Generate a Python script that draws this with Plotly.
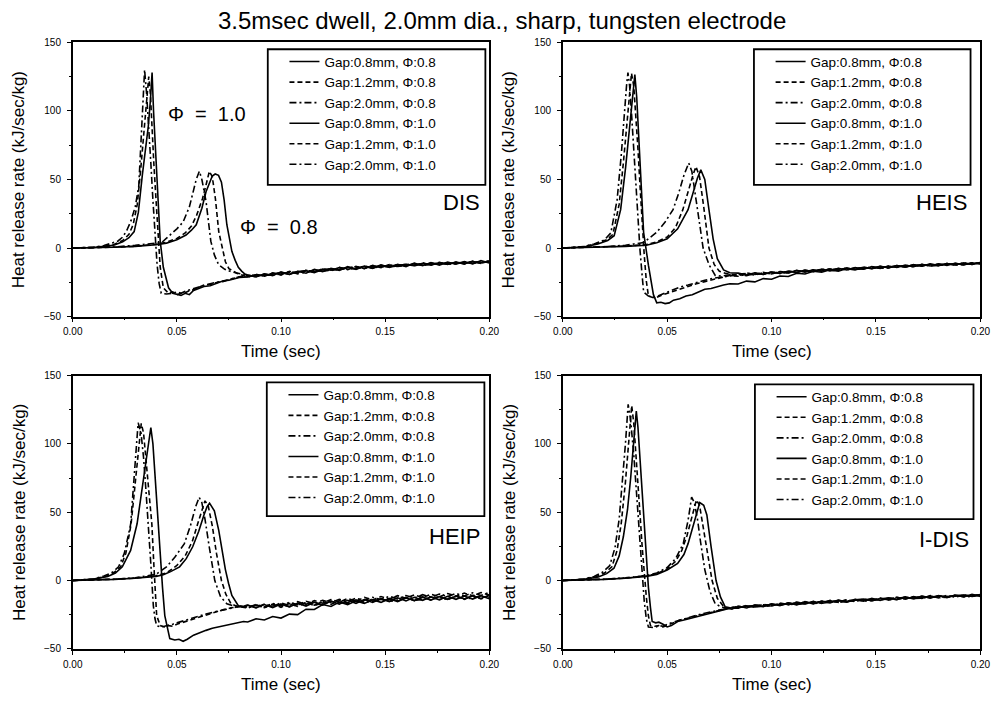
import plotly.graph_objects as go

# ---------------- data ----------------
PANEL_NAMES = ["DIS", "HEIS", "HEIP", "I-DIS"]
SERIES_NAMES = ["Gap:0.8mm, Φ:0.8", "Gap:1.2mm, Φ:0.8", "Gap:2.0mm, Φ:0.8",
                "Gap:0.8mm, Φ:1.0", "Gap:1.2mm, Φ:1.0", "Gap:2.0mm, Φ:1.0"]
X_TICKS = [0.0, 0.05, 0.10, 0.15, 0.20]
X_TICK_TEXT = ["0.00", "0.05", "0.10", "0.15", "0.20"]
Y_TICKS = [-50, 0, 50, 100, 150]

TAIL_T = [0.084, 0.088, 0.092, 0.096, 0.100, 0.104, 0.108, 0.112, 0.116, 0.120,
          0.124, 0.128, 0.132, 0.136, 0.140, 0.144, 0.148, 0.152, 0.156, 0.160,
          0.164, 0.168, 0.172, 0.176, 0.180, 0.184, 0.188, 0.192, 0.196, 0.200]

# ---- DIS ----
DIS_T_G08_P08 = [0, 0.010, 0.020, 0.030, 0.036, 0.040, 0.045, 0.050, 0.0544, 0.057, 0.0593, 0.062, 0.064, 0.0655, 0.067, 0.0684, 0.070, 0.0714, 0.0727, 0.074, 0.0752, 0.0764, 0.078, 0.0795, 0.0812, 0.0827]
DIS_V_G08_P08 = [0, 0.2, 0.6, 1.2, 1.8, 2.4, 3.6, 6, 9.5, 13, 17, 29, 41, 47, 52.5, 54, 53, 48, 35, 17, 6, -2.4, -9, -14, -17, -19]
DIS_T_G12_P08 = [0, 0.010, 0.020, 0.030, 0.036, 0.040, 0.045, 0.050, 0.054, 0.057, 0.0595, 0.0623, 0.064, 0.0656, 0.067, 0.0685, 0.0701, 0.0717, 0.0733, 0.075, 0.077, 0.079, 0.081]
DIS_V_G12_P08 = [0, 0.2, 0.6, 1.3, 2, 2.8, 4.2, 7, 11, 16, 24, 36, 46, 56, 52, 36, 12, 0, -10, -15, -17, -18.5, -19.5]
DIS_T_G20_P08 = [0, 0.010, 0.020, 0.030, 0.036, 0.0427, 0.0452, 0.050, 0.053, 0.056, 0.0593, 0.0608, 0.062, 0.064, 0.0663, 0.068, 0.070, 0.073, 0.0755, 0.078, 0.081]
DIS_V_G20_P08 = [0, 0.3, 0.8, 2, 3, 4, 7.4, 14, 19, 30, 50, 56, 50, 34, 5, -5, -12, -15.5, -17, -18, -19]
DIS_T_G08_P10 = [0, 0.010, 0.016, 0.020, 0.024, 0.027, 0.0295, 0.0315, 0.0334, 0.035, 0.0363, 0.0373, 0.0381, 0.0388, 0.0395, 0.0405, 0.042, 0.0435, 0.046, 0.048, 0.050, 0.052, 0.054, 0.056, 0.058, 0.060, 0.063, 0.066, 0.069, 0.072, 0.075, 0.078, 0.080]
DIS_V_G08_P10 = [0, 0.4, 1.2, 2.2, 4.5, 7.5, 12, 26, 53, 72, 89, 108, 128, 100, 77, 45, 5, -14, -29, -33, -34, -34.5, -33, -34, -31, -30, -28, -27.5, -26, -24, -23.5, -22, -21.5]
DIS_T_G12_P10 = [0, 0.010, 0.016, 0.020, 0.024, 0.027, 0.029, 0.031, 0.0325, 0.034, 0.0352, 0.0365, 0.0373, 0.038, 0.039, 0.040, 0.041, 0.042, 0.0435, 0.046, 0.048, 0.050, 0.052, 0.054, 0.056, 0.058, 0.060, 0.063, 0.066, 0.069, 0.072, 0.075, 0.078, 0.080]
DIS_V_G12_P10 = [0, 0.5, 1.5, 2.8, 5.5, 10, 17, 32, 55, 82, 104, 125, 112, 88, 60, 35, 8, -14, -29, -33, -32, -34, -33, -32.5, -31, -30.5, -29, -27, -26.5, -25, -24, -23, -21.5, -21]
DIS_T_G20_P10 = [0, 0.010, 0.015, 0.019, 0.0216, 0.024, 0.026, 0.028, 0.030, 0.0317, 0.033, 0.0345, 0.0355, 0.0365, 0.0375, 0.0385, 0.0395, 0.0405, 0.0415, 0.0425, 0.045, 0.048, 0.050, 0.052, 0.054, 0.057, 0.060, 0.063, 0.066, 0.069, 0.072, 0.075, 0.078, 0.080]
DIS_V_G20_P10 = [0, 0.6, 1.8, 3.5, 5, 8, 13, 20, 30, 45, 85, 130, 112, 90, 62, 35, 10, -12, -26, -33, -33.5, -33, -32, -33, -31.5, -30, -29, -27.5, -26, -25, -24.5, -23, -22, -21]
DIS_TAIL_G08_P08 = [-19.6, -21.1, -18.8, -20.2, -17.4, -19.3, -16.9, -18.4, -15.6, -17.2, -14.8, -16.3, -13.5, -15.6, -13.1, -14.8, -12.2, -14.1, -11.8, -13.5, -11.0, -12.9, -10.6, -12.4, -10.3, -11.8, -9.8, -11.6, -9.2, -10.9]
DIS_TAIL_G12_P08 = [-21.4, -19.2, -20.6, -18.1, -19.7, -17.0, -18.8, -16.2, -17.5, -15.1, -16.6, -14.0, -15.8, -13.4, -15.1, -12.7, -14.3, -12.0, -13.6, -11.5, -13.1, -10.8, -12.5, -10.4, -12.0, -10.1, -11.7, -9.5, -11.2, -9.1]
DIS_TAIL_G20_P08 = [-20.1, -20.9, -19.0, -19.8, -18.9, -17.3, -18.1, -17.9, -16.0, -16.8, -16.2, -14.3, -15.5, -14.9, -13.2, -14.4, -13.8, -12.3, -13.4, -12.9, -11.4, -12.6, -12.0, -10.6, -11.9, -11.3, -10.0, -11.2, -10.6, -9.6]
DIS_TAIL_G08_P10 = [-21.0, -19.5, -20.3, -18.7, -18.0, -19.2, -17.1, -16.6, -17.9, -15.4, -16.1, -15.6, -14.0, -15.2, -13.5, -14.6, -12.6, -13.8, -13.0, -11.9, -12.8, -11.2, -12.3, -10.7, -11.8, -10.5, -11.4, -9.9, -10.8, -9.7]
DIS_TAIL_G12_P10 = [-19.8, -20.7, -19.9, -18.4, -19.3, -17.6, -18.2, -16.4, -17.3, -16.5, -15.0, -16.0, -14.4, -13.9, -14.9, -13.1, -13.9, -12.5, -13.3, -12.0, -12.7, -11.5, -11.9, -11.1, -11.6, -10.4, -11.0, -10.2, -10.9, -9.8]
DIS_TAIL_G20_P10 = [-20.8, -19.6, -20.0, -19.4, -17.8, -18.5, -17.7, -16.3, -16.9, -15.8, -15.3, -15.4, -14.6, -13.7, -14.5, -12.9, -13.7, -13.5, -12.1, -13.0, -11.7, -12.4, -11.0, -11.9, -10.8, -11.5, -10.3, -10.6, -10.0, -10.4]

# ---- HEIS ----
HEIS_T_G08_P08 = [0, 0.010, 0.020, 0.030, 0.040, 0.045, 0.050, 0.055, 0.060, 0.063, 0.0645, 0.0661, 0.068, 0.070, 0.072, 0.074, 0.077, 0.080]
HEIS_V_G08_P08 = [0, 0.3, 0.6, 1.2, 2, 3.8, 6.7, 14, 28, 43, 51, 57, 50, 28, 6.7, -7.7, -16, -18]
HEIS_T_G12_P08 = [0, 0.010, 0.020, 0.030, 0.040, 0.045, 0.050, 0.054, 0.0575, 0.0605, 0.0625, 0.0638, 0.0655, 0.0675, 0.070, 0.0725, 0.075, 0.078, 0.080]
HEIS_V_G12_P08 = [0, 0.3, 0.7, 1.4, 2.6, 4.5, 8, 15, 28, 44, 54, 59.4, 52, 30, 0, -12, -17, -18.5, -19]
HEIS_T_G20_P08 = [0, 0.010, 0.020, 0.030, 0.0387, 0.045, 0.049, 0.0528, 0.0555, 0.058, 0.0603, 0.0618, 0.0635, 0.0655, 0.0672, 0.070, 0.073, 0.076, 0.080]
HEIS_V_G20_P08 = [0, 0.4, 1, 2, 4, 11.5, 19, 28, 40, 53, 62, 56, 40, 18, 0, -12, -20, -20.5, -19.5]
HEIS_T_G08_P10 = [0, 0.010, 0.0168, 0.0215, 0.0246, 0.0277, 0.0301, 0.0324, 0.0335, 0.0345, 0.0354, 0.0363, 0.0375, 0.0387, 0.041, 0.0434, 0.045, 0.047, 0.049, 0.051, 0.053, 0.056, 0.059, 0.062, 0.065, 0.068, 0.071, 0.074, 0.077, 0.080]
HEIS_V_G08_P10 = [0, 0.8, 3, 5.5, 9, 28, 59, 95, 115, 126.5, 110, 83, 45, 11.5, -12.5, -34, -40, -39.5, -40.5, -40, -38, -37, -35, -34, -32, -30, -29.5, -28, -27, -26]
HEIS_T_G12_P10 = [0, 0.010, 0.016, 0.021, 0.024, 0.027, 0.029, 0.031, 0.032, 0.0329, 0.034, 0.035, 0.036, 0.037, 0.038, 0.039, 0.040, 0.041, 0.043, 0.045, 0.048, 0.051, 0.054, 0.057, 0.060, 0.064, 0.068, 0.072, 0.076, 0.080]
HEIS_V_G12_P10 = [0, 0.9, 3.2, 6, 10, 32, 62, 98, 115, 127.5, 118, 98, 72, 45, 18, -5, -24, -35, -36, -36, -34, -32.5, -31, -29, -28, -26, -24.5, -23, -21.5, -20]
HEIS_T_G20_P10 = [0, 0.010, 0.015, 0.020, 0.023, 0.026, 0.028, 0.0295, 0.0305, 0.0312, 0.032, 0.033, 0.034, 0.035, 0.036, 0.037, 0.038, 0.0387, 0.041, 0.044, 0.047, 0.050, 0.053, 0.056, 0.060, 0.064, 0.068, 0.072, 0.076, 0.080]
HEIS_V_G20_P10 = [0, 1, 3, 6, 11, 35, 68, 100, 118, 128, 118, 96, 70, 45, 20, -2, -20, -32, -35, -36, -34, -32, -30, -28.5, -27, -25, -23.5, -22, -21, -20]
HEIS_TAIL_G08_P08 = [-18.3, -19.6, -18.0, -19.2, -17.5, -18.6, -16.8, -17.9, -16.1, -17.3, -15.5, -16.6, -14.8, -16.0, -14.3, -15.4, -13.6, -14.8, -13.1, -14.2, -12.5, -13.6, -11.9, -13.1, -11.5, -12.7, -11.1, -12.3, -10.7, -11.6]
HEIS_TAIL_G12_P08 = [-19.8, -18.1, -19.4, -17.7, -18.9, -17.1, -18.2, -16.3, -17.5, -15.8, -16.9, -15.1, -16.2, -14.5, -15.7, -13.9, -15.1, -13.3, -14.5, -12.7, -13.8, -12.1, -13.2, -11.6, -12.8, -11.3, -12.4, -10.8, -12.0, -10.4]
HEIS_TAIL_G20_P08 = [-19.4, -18.4, -19.1, -18.9, -17.6, -18.3, -17.9, -16.5, -17.2, -16.9, -15.4, -16.5, -16.1, -14.6, -15.6, -15.3, -13.7, -14.7, -14.4, -12.9, -13.8, -13.5, -12.0, -13.0, -12.7, -11.3, -12.4, -12.1, -10.8, -11.5]
HEIS_TAIL_G08_P10 = [-26.2, -24.1, -24.7, -22.3, -22.8, -20.4, -20.7, -18.4, -18.9, -16.9, -17.6, -15.9, -16.8, -15.0, -15.9, -14.2, -15.1, -13.4, -14.4, -12.8, -13.8, -12.2, -13.2, -11.7, -12.8, -11.4, -12.4, -10.9, -12.0, -10.5]
HEIS_TAIL_G12_P10 = [-20.6, -18.9, -19.7, -18.0, -18.9, -17.1, -18.1, -16.4, -17.4, -15.8, -16.8, -15.2, -16.1, -14.6, -15.5, -14.0, -14.9, -13.4, -14.3, -12.8, -13.6, -12.2, -13.1, -11.7, -12.6, -11.4, -12.2, -10.9, -11.9, -10.5]
HEIS_TAIL_G20_P10 = [-19.5, -20.1, -18.3, -19.2, -17.6, -18.5, -16.9, -17.6, -16.2, -17.1, -15.6, -16.4, -15.0, -15.9, -14.4, -15.2, -13.8, -14.6, -13.2, -14.0, -12.6, -13.4, -12.1, -12.9, -11.7, -12.5, -11.2, -12.1, -10.8, -11.6]

# ---- HEIP ----
HEIP_T_G08_P08 = [0, 0.010, 0.020, 0.030, 0.040, 0.0435, 0.047, 0.0513, 0.0545, 0.0576, 0.0605, 0.063, 0.0645, 0.0657, 0.068, 0.0701, 0.0717, 0.0733, 0.0748, 0.0764, 0.0795, 0.082]
HEIP_V_G08_P08 = [0, 0.3, 0.8, 1.6, 3, 4.3, 6.5, 10, 16, 24.7, 36, 48, 54, 56.6, 51, 36.7, 22, 8, -2, -11, -18.5, -19]
HEIP_T_G12_P08 = [0, 0.010, 0.020, 0.030, 0.040, 0.045, 0.050, 0.054, 0.0575, 0.0605, 0.0622, 0.0635, 0.065, 0.067, 0.069, 0.0714, 0.0735, 0.076, 0.079, 0.082]
HEIP_V_G12_P08 = [0, 0.3, 0.9, 1.8, 3.5, 5.5, 11, 18, 29, 44, 53, 58.3, 55, 40, 20, 0, -10, -17, -19, -19.5]
HEIP_T_G20_P08 = [0, 0.010, 0.020, 0.030, 0.040, 0.045, 0.049, 0.0536, 0.0565, 0.059, 0.0607, 0.062, 0.0635, 0.0655, 0.0682, 0.071, 0.074, 0.077, 0.080]
HEIP_V_G20_P08 = [0, 0.4, 1, 2, 4.5, 10, 17, 27, 40, 54, 61, 57, 45, 25, 0, -12, -17, -18.5, -19]
HEIP_T_G08_P10 = [0, 0.010, 0.0168, 0.0205, 0.0238, 0.0278, 0.0309, 0.034, 0.0358, 0.0375, 0.0385, 0.0395, 0.0407, 0.0419, 0.0431, 0.0442, 0.0455, 0.0466, 0.049, 0.051, 0.053, 0.055, 0.058, 0.061, 0.064, 0.067, 0.070, 0.074, 0.078, 0.082]
HEIP_V_G08_P10 = [0, 1, 3, 5.5, 10, 22, 41.5, 75, 95, 112, 100, 77.5, 48, 17.5, -5, -25.7, -36, -42.5, -43.5, -43, -44.5, -43, -40, -38, -36.5, -35, -34, -32.5, -31, -30]
HEIP_T_G12_P10 = [0, 0.010, 0.016, 0.020, 0.023, 0.0255, 0.028, 0.030, 0.0315, 0.0329, 0.034, 0.035, 0.036, 0.037, 0.038, 0.039, 0.0403, 0.042, 0.044, 0.046, 0.048, 0.050, 0.053, 0.056, 0.060, 0.064, 0.068, 0.072, 0.076, 0.080]
HEIP_V_G12_P10 = [0, 1, 3.2, 6, 10, 20, 41, 70, 95, 115, 108, 92, 75, 58, 41, 10, -25.7, -33, -34, -33, -33.5, -32, -30.5, -29, -27, -25, -23, -21.5, -20, -19]
HEIP_T_G20_P10 = [0, 0.010, 0.015, 0.019, 0.022, 0.0248, 0.0278, 0.0295, 0.0314, 0.0328, 0.034, 0.0352, 0.0364, 0.0375, 0.0387, 0.0395, 0.0403, 0.042, 0.044, 0.046, 0.048, 0.050, 0.053, 0.056, 0.060, 0.064, 0.068, 0.072, 0.076, 0.080]
HEIP_V_G20_P10 = [0, 1.1, 3.3, 6, 10, 20, 41, 75, 115.4, 108, 90, 65, 41, 12, -18.5, -28, -33, -34, -33.5, -33, -32, -31, -29.5, -28.5, -26.5, -24.5, -23, -21.5, -20, -19]
HEIP_TAIL_G08_P08 = [-18.0, -20.1, -17.6, -19.8, -17.2, -19.3, -16.6, -18.7, -15.9, -18.0, -15.1, -17.3, -14.5, -16.7, -13.9, -16.1, -13.3, -15.4, -12.7, -14.9, -12.3, -14.5, -11.9, -14.1, -11.6, -13.8, -11.4, -13.6, -11.2, -13.3]
HEIP_TAIL_G12_P08 = [-20.2, -17.7, -19.9, -17.3, -19.6, -16.8, -19.0, -16.2, -18.3, -15.4, -17.5, -14.7, -16.9, -14.1, -16.3, -13.5, -15.7, -12.9, -15.1, -12.4, -14.7, -12.0, -14.3, -11.6, -14.0, -11.4, -13.8, -11.1, -13.5, -10.9]
HEIP_TAIL_G20_P08 = [-19.3, -18.2, -19.7, -18.6, -17.4, -19.1, -17.9, -16.3, -18.0, -16.9, -15.2, -16.8, -16.1, -14.2, -15.9, -15.3, -13.3, -15.2, -14.6, -12.6, -14.5, -14.0, -12.1, -13.9, -13.3, -11.7, -13.4, -12.8, -11.3, -12.9]
HEIP_TAIL_G08_P10 = [-30.4, -28.0, -28.9, -26.4, -27.5, -24.6, -25.0, -21.0, -21.2, -17.6, -19.0, -15.8, -17.7, -14.9, -16.8, -14.1, -16.0, -13.3, -15.4, -12.7, -14.8, -12.2, -14.3, -11.8, -13.9, -11.4, -13.5, -11.0, -13.1, -10.7]
HEIP_TAIL_G12_P10 = [-18.1, -19.8, -17.2, -19.1, -16.3, -18.3, -15.5, -17.4, -14.7, -16.6, -13.9, -15.8, -13.1, -15.0, -12.4, -14.2, -11.7, -13.6, -11.1, -13.0, -10.5, -12.4, -10.0, -11.9, -9.5, -11.5, -9.2, -11.1, -8.8, -10.7]
HEIP_TAIL_G20_P10 = [-19.9, -17.6, -19.3, -16.8, -18.5, -16.0, -17.7, -15.2, -16.9, -14.5, -16.2, -13.7, -15.4, -12.9, -14.6, -12.3, -14.0, -11.6, -13.4, -11.0, -12.8, -10.4, -12.2, -9.9, -11.8, -9.5, -11.3, -9.0, -10.9, -8.6]

# ---- I-DIS ----
IDIS_T_G08_P08 = [0, 0.010, 0.020, 0.030, 0.040, 0.045, 0.050, 0.055, 0.058, 0.060, 0.063, 0.0656, 0.0675, 0.069, 0.071, 0.0734, 0.0755, 0.078, 0.081]
IDIS_V_G08_P08 = [0, 0.3, 0.8, 1.6, 3, 4.5, 7.7, 12.5, 19, 27, 44, 57, 55, 48, 25, 0, -12, -20, -21]
IDIS_T_G12_P08 = [0, 0.010, 0.020, 0.030, 0.040, 0.045, 0.050, 0.054, 0.057, 0.0595, 0.062, 0.064, 0.0655, 0.067, 0.069, 0.0715, 0.074, 0.077, 0.080]
IDIS_V_G12_P08 = [0, 0.3, 0.9, 1.8, 3.3, 5, 8.5, 14, 22, 33, 48, 59, 55, 42, 22, 0, -13, -19, -20]
IDIS_T_G20_P08 = [0, 0.010, 0.020, 0.030, 0.040, 0.045, 0.050, 0.054, 0.0577, 0.060, 0.0617, 0.063, 0.0645, 0.066, 0.068, 0.0705, 0.073, 0.076, 0.080]
IDIS_V_G20_P08 = [0, 0.3, 1, 2, 3.5, 5.5, 9.5, 16, 27, 44, 61, 57, 45, 28, 8, -8, -17, -19.5, -20]
IDIS_T_G08_P10 = [0, 0.010, 0.017, 0.021, 0.0245, 0.027, 0.029, 0.031, 0.0325, 0.034, 0.0352, 0.036, 0.037, 0.038, 0.039, 0.040, 0.041, 0.042, 0.0428, 0.0445, 0.046, 0.048, 0.050, 0.052, 0.055, 0.059, 0.063, 0.067, 0.071, 0.075, 0.078, 0.081]
IDIS_V_G08_P10 = [0, 0.8, 2.5, 5, 9, 18, 32, 52, 75, 100, 124, 112, 88, 62, 38, 15, -5, -20, -30, -31, -30.5, -32, -34, -33, -30, -28.5, -27, -25, -24, -22, -21, -20]
IDIS_T_G12_P10 = [0, 0.010, 0.016, 0.020, 0.0235, 0.026, 0.028, 0.030, 0.0315, 0.033, 0.034, 0.035, 0.036, 0.037, 0.038, 0.039, 0.040, 0.041, 0.042, 0.044, 0.046, 0.048, 0.050, 0.053, 0.056, 0.060, 0.064, 0.068, 0.072, 0.076, 0.080]
IDIS_V_G12_P10 = [0, 0.9, 2.8, 5.5, 10, 22, 42, 72, 100, 128, 115, 95, 70, 48, 25, 5, -12, -26, -33, -33.5, -33, -34, -33, -31, -29, -27.5, -25.5, -24, -22.5, -21, -20]
IDIS_T_G20_P10 = [0, 0.010, 0.015, 0.019, 0.0225, 0.025, 0.027, 0.029, 0.030, 0.0313, 0.0325, 0.034, 0.035, 0.036, 0.037, 0.038, 0.039, 0.040, 0.041, 0.044, 0.046, 0.048, 0.050, 0.053, 0.056, 0.060, 0.064, 0.068, 0.072, 0.076, 0.080]
IDIS_V_G20_P10 = [0, 1, 3, 6, 11, 24, 45, 78, 100, 129, 117, 92, 70, 48, 25, 3, -15, -28, -34, -34.5, -33, -33.5, -32, -30.5, -29, -27, -25.5, -24, -22.5, -21, -20]
IDIS_TAIL_G08_P08 = [-18.7, -20.1, -17.9, -19.2, -17.0, -18.4, -16.3, -17.8, -15.5, -17.0, -15.0, -16.4, -14.3, -15.8, -13.8, -15.2, -13.1, -14.6, -12.6, -14.0, -12.0, -13.4, -11.4, -12.9, -11.0, -12.5, -10.6, -12.0, -10.2, -11.6]
IDIS_TAIL_G12_P08 = [-20.3, -18.2, -19.5, -17.3, -18.7, -16.6, -17.9, -15.8, -17.2, -15.3, -16.7, -14.6, -16.0, -14.0, -15.5, -13.5, -14.9, -12.9, -14.3, -12.2, -13.6, -11.7, -13.1, -11.1, -12.7, -10.8, -12.3, -10.5, -11.8, -10.0]
IDIS_TAIL_G20_P08 = [-19.2, -19.8, -18.0, -18.9, -18.5, -16.8, -17.6, -17.3, -15.7, -16.8, -16.4, -14.8, -15.9, -15.4, -13.9, -15.0, -14.7, -13.0, -14.1, -13.8, -12.1, -13.2, -12.9, -11.4, -12.6, -12.3, -10.7, -11.9, -11.7, -10.1]
IDIS_TAIL_G08_P10 = [-20.0, -18.6, -19.3, -18.8, -17.2, -18.1, -16.5, -17.5, -16.9, -15.4, -16.6, -15.9, -14.5, -15.7, -14.2, -13.6, -14.8, -13.3, -12.8, -13.9, -12.4, -13.0, -11.6, -12.6, -11.2, -12.1, -11.0, -10.6, -11.6, -10.4]
IDIS_TAIL_G12_P10 = [-19.0, -19.6, -18.3, -17.7, -18.4, -17.0, -16.6, -17.4, -16.1, -16.9, -15.2, -15.8, -15.6, -14.4, -15.1, -14.0, -13.6, -14.3, -13.2, -12.7, -13.5, -12.0, -12.6, -12.3, -11.3, -12.0, -11.5, -10.9, -11.3, -10.5]
IDIS_TAIL_G20_P10 = [-19.9, -18.8, -18.9, -18.5, -17.6, -17.6, -17.3, -16.2, -16.7, -15.9, -15.5, -15.2, -14.9, -15.1, -14.4, -14.6, -13.8, -13.5, -13.9, -12.8, -12.5, -12.8, -12.4, -11.7, -12.1, -11.4, -11.2, -11.5, -10.7, -11.1]

# ---------------- assemble ----------------
W, H = 1008, 702
FONT = "Liberation Sans, Arial, sans-serif"


def fx(p):
    return p / W


def fy(p):
    return 1 - p / H


PANEL_CURVES = [
    [(DIS_T_G08_P08, DIS_V_G08_P08, DIS_TAIL_G08_P08), (DIS_T_G12_P08, DIS_V_G12_P08, DIS_TAIL_G12_P08),
     (DIS_T_G20_P08, DIS_V_G20_P08, DIS_TAIL_G20_P08), (DIS_T_G08_P10, DIS_V_G08_P10, DIS_TAIL_G08_P10),
     (DIS_T_G12_P10, DIS_V_G12_P10, DIS_TAIL_G12_P10), (DIS_T_G20_P10, DIS_V_G20_P10, DIS_TAIL_G20_P10)],
    [(HEIS_T_G08_P08, HEIS_V_G08_P08, HEIS_TAIL_G08_P08), (HEIS_T_G12_P08, HEIS_V_G12_P08, HEIS_TAIL_G12_P08),
     (HEIS_T_G20_P08, HEIS_V_G20_P08, HEIS_TAIL_G20_P08), (HEIS_T_G08_P10, HEIS_V_G08_P10, HEIS_TAIL_G08_P10),
     (HEIS_T_G12_P10, HEIS_V_G12_P10, HEIS_TAIL_G12_P10), (HEIS_T_G20_P10, HEIS_V_G20_P10, HEIS_TAIL_G20_P10)],
    [(HEIP_T_G08_P08, HEIP_V_G08_P08, HEIP_TAIL_G08_P08), (HEIP_T_G12_P08, HEIP_V_G12_P08, HEIP_TAIL_G12_P08),
     (HEIP_T_G20_P08, HEIP_V_G20_P08, HEIP_TAIL_G20_P08), (HEIP_T_G08_P10, HEIP_V_G08_P10, HEIP_TAIL_G08_P10),
     (HEIP_T_G12_P10, HEIP_V_G12_P10, HEIP_TAIL_G12_P10), (HEIP_T_G20_P10, HEIP_V_G20_P10, HEIP_TAIL_G20_P10)],
    [(IDIS_T_G08_P08, IDIS_V_G08_P08, IDIS_TAIL_G08_P08), (IDIS_T_G12_P08, IDIS_V_G12_P08, IDIS_TAIL_G12_P08),
     (IDIS_T_G20_P08, IDIS_V_G20_P08, IDIS_TAIL_G20_P08), (IDIS_T_G08_P10, IDIS_V_G08_P10, IDIS_TAIL_G08_P10),
     (IDIS_T_G12_P10, IDIS_V_G12_P10, IDIS_TAIL_G12_P10), (IDIS_T_G20_P10, IDIS_V_G20_P10, IDIS_TAIL_G20_P10)],
]

DASHES = ["solid", "5px,3px", "7px,3px,2px,3px", "solid", "5px,3px", "7px,3px,2px,3px"]

# plot areas in pixels: (left, top, right, bottom)
AREAS = [(64, 37, 489, 316), (564, 37, 990, 316), (64, 376, 489, 654), (564, 376, 990, 654)]
# legend boxes in pixels
LBOX = [(263, 44, 485, 182), (759, 44, 980, 182), (262, 383, 484, 519), (760, 385, 983, 522)]
# panel label positions (right x, center y)
LABEL_POS = [(482, 200), (978, 200), (482, 540), (980, 543)]

fig = go.Figure()
layout = dict(
    width=W, height=H, margin=dict(l=0, r=0, t=0, b=0),
    paper_bgcolor="white", plot_bgcolor="white",
    font=dict(family=FONT, color="black"),
    showlegend=True,
)
annotations = []
shapes = []

for i, name in enumerate(PANEL_NAMES):
    ax = "" if i == 0 else str(i + 1)
    lg = "legend" if i == 0 else "legend" + str(i + 1)
    l, t, r, b = AREAS[i]
    for j, (tt, vv, tail) in enumerate(PANEL_CURVES[i]):
        fig.add_trace(go.Scatter(
            x=list(tt) + TAIL_T, y=list(vv) + tail, mode="lines",
            name=SERIES_NAMES[j], legend=lg,
            line=dict(color="black", width=1.6, dash=DASHES[j]),
            xaxis="x" + ax, yaxis="y" + ax, showlegend=True,
        ))
    layout["xaxis" + ax] = dict(
        domain=[fx(l), fx(r)], anchor="y" + ax, range=[0, 0.2],
        tickvals=X_TICKS, ticktext=X_TICK_TEXT, ticks="outside", ticklen=4,
        tickwidth=1.2, tickcolor="black", showline=True, linecolor="black",
        linewidth=1.5, mirror=True, showgrid=False, zeroline=False,
        tickfont=dict(size=10, family=FONT), ticklabelstandoff=1,
        minor=dict(ticks="outside", ticklen=2, tickcolor="black", dtick=0.025, showgrid=False),
    )
    layout["yaxis" + ax] = dict(
        domain=[fy(b), fy(t)], anchor="x" + ax, range=[-50, 150],
        tickvals=Y_TICKS, ticks="outside", ticklen=4, tickwidth=1.2,
        tickcolor="black", showline=True, linecolor="black", linewidth=1.5,
        mirror=True, showgrid=False, zeroline=False,
        tickfont=dict(size=10, family=FONT), ticklabelstandoff=4,
        minor=dict(ticks="outside", ticklen=2, tickcolor="black", dtick=25, showgrid=False),
    )
    bl, bt, br, bb = LBOX[i]
    shapes.append(dict(type="rect", xref="paper", yref="paper",
                       x0=fx(bl), x1=fx(br), y0=fy(bb), y1=fy(bt),
                       line=dict(color="black", width=1.8)))
    layout[lg] = dict(
        x=fx(bl + 17), y=fy(bt - 3), xanchor="left", yanchor="top",
        bgcolor="rgba(0,0,0,0)", borderwidth=0, itemwidth=30,
        font=dict(size=13.5, family=FONT, color="black"), tracegroupgap=0,
    )
    lx, ly = LABEL_POS[i]
    annotations.append(dict(text=name, x=fx(lx), y=fy(ly), xref="paper", yref="paper",
                            xanchor="right", yanchor="middle", showarrow=False,
                            font=dict(size=22, family=FONT)))
    annotations.append(dict(text="Time (sec)", x=fx((l + r) / 2), y=fy(b + 36), xref="paper",
                            yref="paper", xanchor="center", yanchor="middle", showarrow=False,
                            font=dict(size=17, family=FONT)))
    annotations.append(dict(text="Heat release rate (kJ/sec/kg)", x=fx(l - 55), y=fy((t + b) / 2),
                            xref="paper", yref="paper", xanchor="center", yanchor="middle",
                            textangle=-90, showarrow=False, font=dict(size=17, family=FONT)))

annotations.append(dict(text="3.5msec dwell, 2.0mm dia., sharp, tungsten electrode",
                        x=fx(502), y=fy(15), xref="paper", yref="paper", xanchor="center",
                        yanchor="middle", showarrow=False, font=dict(size=24, family=FONT)))
annotations.append(dict(text="Φ\u00a0 =\u00a0 1.0", x=fx(201), y=fy(110), xref="paper", yref="paper",
                        xanchor="center", yanchor="middle", showarrow=False,
                        font=dict(size=20, family=FONT)))
annotations.append(dict(text="Φ\u00a0 =\u00a0 0.8", x=fx(274), y=fy(225), xref="paper", yref="paper",
                        xanchor="center", yanchor="middle", showarrow=False,
                        font=dict(size=20, family=FONT)))

layout["annotations"] = annotations
layout["shapes"] = shapes
fig.update_layout(**layout)
fig.write_html("out.html")
